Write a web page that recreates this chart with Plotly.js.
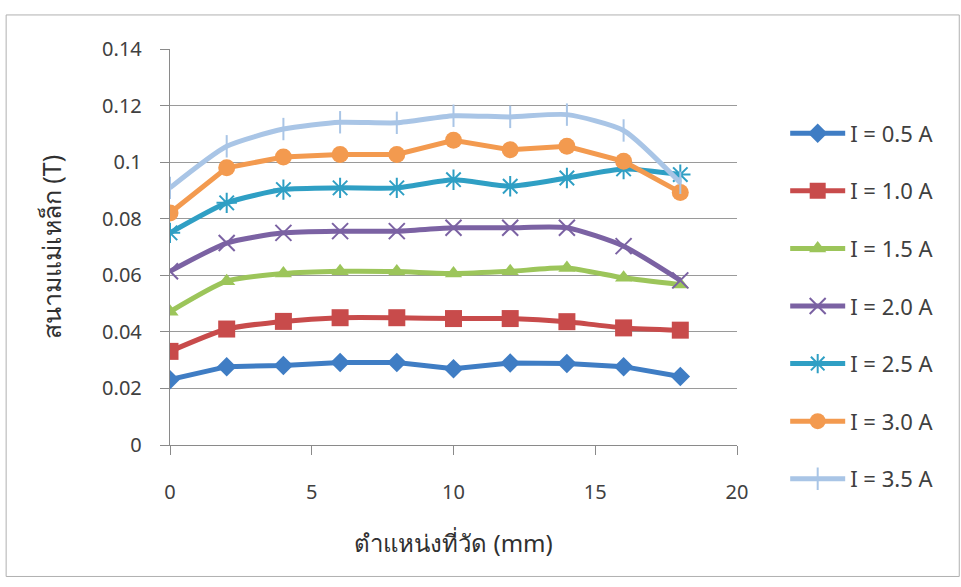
<!DOCTYPE html>
<html>
<head>
<meta charset="utf-8">
<script src="https://cdn.plot.ly/plotly-3.0.1.min.js"></script>
<style>html,body{margin:0;padding:0;background:#fff;}#chart{width:961px;height:587px;}</style>
</head>
<body>
<div id="chart"></div>
<script>
const positions = [0, 2, 4, 6, 8, 10, 12, 14, 16, 18];
const seriesNames = ["I = 0.5 A", "I = 1.0 A", "I = 1.5 A", "I = 2.0 A", "I = 2.5 A", "I = 3.0 A", "I = 3.5 A"];
const i05 = [0.0231, 0.0277, 0.0281, 0.0292, 0.0292, 0.0270, 0.0290, 0.0288, 0.0277, 0.0242];
const i10 = [0.0331, 0.0410, 0.0437, 0.0450, 0.0450, 0.0447, 0.0447, 0.0436, 0.0414, 0.0406];
const i15 = [0.0471, 0.0579, 0.0606, 0.0614, 0.0613, 0.0606, 0.0614, 0.0626, 0.0591, 0.0567];
const i20 = [0.0614, 0.0714, 0.0750, 0.0756, 0.0756, 0.0768, 0.0768, 0.0768, 0.0703, 0.0582];
const i25 = [0.0750, 0.0856, 0.0903, 0.0909, 0.0909, 0.0938, 0.0915, 0.0944, 0.0976, 0.0956];
const i30 = [0.0820, 0.0980, 0.1018, 0.1027, 0.1027, 0.1077, 0.1044, 0.1056, 0.1003, 0.0893];
const i35 = [0.0909, 0.1056, 0.1117, 0.1141, 0.1139, 0.1164, 0.1160, 0.1168, 0.1112, 0.0927];
const yTickVals = [0, 0.02, 0.04, 0.06, 0.08, 0.1, 0.12, 0.14];
const yTickText = ["0", "0.02", "0.04", "0.06", "0.08", "0.1", "0.12", "0.14"];
const xTickVals = [0, 5, 10, 15, 20];

const colors = ["#3f7dc4", "#c84b4b", "#9cc55a", "#7b62a3", "#2f9fc4", "#f39a4f", "#a9c5e6"];
const allY = [i05, i10, i15, i20, i25, i30, i35];
const symbols = ["diamond", "square", "triangle-up", "x-thin-open", "asterisk-open", "circle", "line-ns-open"];
const sizes = [15, 17, 15, 16, 17, 17, 16];
const shapes = ["linear", "spline", "spline", "spline", "spline", "linear", "spline"];

const traces = allY.map((ys, k) => ({
  x: positions, y: ys, name: seriesNames[k], type: "scatter", mode: "lines+markers",
  legendgroup: "g" + k,
  line: {color: colors[k], width: 5, shape: shapes[k], smoothing: 0.6},
  marker: {symbol: symbols[k], size: sizes[k], color: colors[k],
           line: {color: colors[k], width: (symbols[k].endsWith("open") ? 2 : 0)}}
}));

const layout = {
  width: 961, height: 587,
  paper_bgcolor: "#fff", plot_bgcolor: "#fff",
  margin: {l: 170, r: 224, t: 49, b: 141.5, pad: 0},
  font: {family: "Noto Sans, DejaVu Sans, sans-serif", color: "#404040", size: 20},
  xaxis: {
    range: [0, 20], tickvals: xTickVals, ticks: "outside", ticklen: 9, tickcolor: "#8a8a8a",
    showline: true, linecolor: "#8a8a8a", linewidth: 1.2, showgrid: false, zeroline: false,
    tickfont: {size: 20, color: "#404040"}, ticklabelstandoff: 20,
    title: {text: "ตำแหน่งที่วัด (mm)", font: {size: 24, color: "#303030"}, standoff: 31}
  },
  yaxis: {
    range: [0, 0.14], tickvals: yTickVals, ticktext: yTickText, ticks: "outside", ticklen: 9, tickcolor: "#8a8a8a",
    showline: true, linecolor: "#8a8a8a", linewidth: 1.2, showgrid: true, gridcolor: "#9a9a9a", gridwidth: 1.2,
    zeroline: false, tickfont: {size: 20, color: "#404040"}, ticklabelstandoff: 14,
    title: {text: "สนามแม่เหล็ก (T)", font: {size: 25, color: "#303030"}, standoff: 33}
  },
  legend: {
    x: 1.085, xanchor: "left", y: 0.35, yanchor: "middle",
    font: {size: 22, color: "#404040"}, tracegroupgap: 26, itemwidth: 55,
    bgcolor: "rgba(0,0,0,0)"
  },
  shapes: [{type: "rect", xref: "paper", yref: "paper", x0: -0.289, x1: 1.392, y0: -0.332, y1: 1.086,
            line: {color: "#b0b0b0", width: 1}}],
  showlegend: true
};

Plotly.newPlot("chart", traces, layout, {displayModeBar: false, staticPlot: true});
</script>
</body>
</html>
